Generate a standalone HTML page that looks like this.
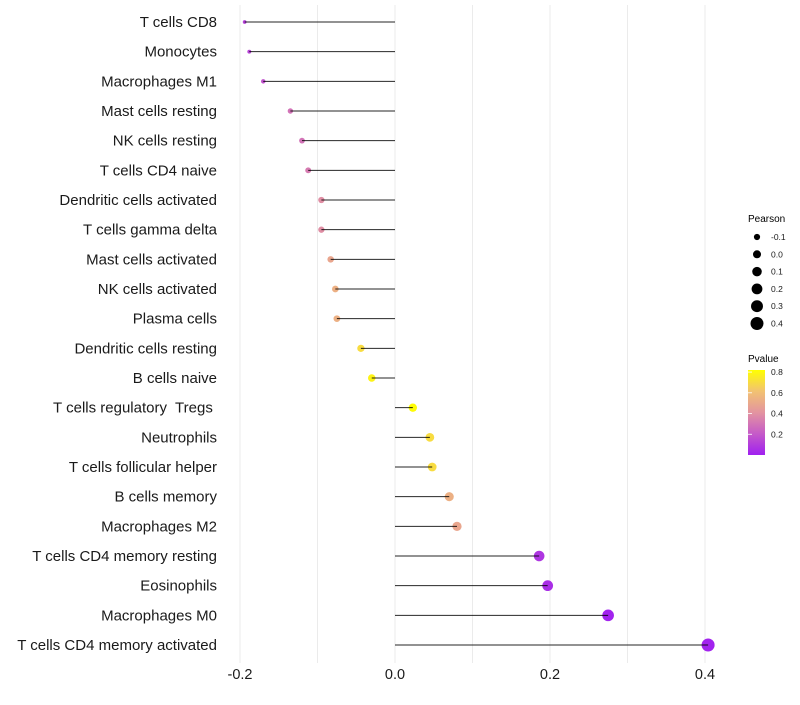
<!DOCTYPE html>
<html><head><meta charset="utf-8"><style>
body{margin:0;background:#fff;font-family:"Liberation Sans",sans-serif;}
svg text{font-family:"Liberation Sans",sans-serif;}
</style></head><body>
<svg id="chart" width="800" height="700" xmlns="http://www.w3.org/2000/svg">
<g id="grid"></g>
<g id="marks"></g>
<g id="yaxis"></g>
<g id="xaxis"></g>
<g id="legend">
<text x="748" y="222" font-size="10">Pearson</text>
<text x="748" y="362" font-size="10">Pvalue</text>
<defs><linearGradient id="pg" x1="0" y1="1" x2="0" y2="0">
<stop offset="0" stop-color="#A020F0"/><stop offset="0.25" stop-color="#C55AC8"/><stop offset="0.5" stop-color="#E394A0"/><stop offset="0.75" stop-color="#F2C272"/><stop offset="1" stop-color="#FFFF00"/></linearGradient></defs>
<rect x="748" y="370" width="17" height="85" fill="url(#pg)"/>
</g>
</svg>
<script>
const categories=["T cells CD8","Monocytes","Macrophages M1","Mast cells resting","NK cells resting","T cells CD4 naive","Dendritic cells activated","T cells gamma delta","Mast cells activated","NK cells activated","Plasma cells","Dendritic cells resting","B cells naive","T cells regulatory  Tregs ","Neutrophils","T cells follicular helper","B cells memory","Macrophages M2","T cells CD4 memory resting","Eosinophils","Macrophages M0","T cells CD4 memory activated"];
const pearson=[-0.194,-0.188,-0.170,-0.135,-0.120,-0.112,-0.095,-0.095,-0.083,-0.077,-0.075,-0.044,-0.030,0.023,0.045,0.048,0.070,0.080,0.186,0.197,0.275,0.404];
const pvalue=[0.12,0.13,0.18,0.3,0.3,0.33,0.4,0.4,0.5,0.55,0.55,0.72,0.8,0.83,0.72,0.72,0.55,0.5,0.08,0.05,0.01,0.01];
const xTicks=[-0.2,0.0,0.2,0.4];
const xTickLabels=["-0.2","0.0","0.2","0.4"];
const sizeLegend=[-0.1,0.0,0.1,0.2,0.3,0.4];
const pLegend=[0.2,0.4,0.6,0.8];
const NS="http://www.w3.org/2000/svg";
const X=v=>395+v*775;
const Y=i=>22+i*(623/21);
const R=v=>Math.sqrt(Math.max(1,18.6+75.25*v))*0.93;
const stops=[[0,[160,32,240]],[0.21,[197,90,200]],[0.42,[227,148,160]],[0.63,[242,194,114]],[0.84,[255,255,0]]];
function col(p){p=Math.min(0.84,Math.max(0,p));for(let k=1;k<stops.length;k++){if(p<=stops[k][0]){const a=stops[k-1],b=stops[k],t=(p-a[0])/(b[0]-a[0]);return "rgb("+a[1].map((c,j)=>Math.round(c+(b[1][j]-c)*t)).join(",")+")";}}return "rgb(255,255,0)";}
function mk(tag,attrs,parent){const e=document.createElementNS(NS,tag);for(const k in attrs)e.setAttribute(k,attrs[k]);parent.appendChild(e);return e;}
const grid=document.getElementById('grid'),marks=document.getElementById('marks'),ya=document.getElementById('yaxis'),xa=document.getElementById('xaxis'),lg=document.getElementById('legend');
for(let v=-0.2;v<=0.4001;v+=0.1){const g=mk('line',{x1:X(v),x2:X(v),y1:5,y2:663,stroke:'#ebebeb','stroke-width':1},grid);

}
categories.forEach((c,i)=>{
const p=pvalue[i],v=pearson[i];
const dot=mk('circle',{cx:X(v),cy:Y(i),r:R(v),fill:col(p)},marks);


const seg=mk('line',{x1:X(0),x2:X(v),y1:Y(i),y2:Y(i),stroke:'#000','stroke-width':1,'stroke-opacity':0.85},marks);


const t=mk('text',{x:217,y:Y(i)+5,'text-anchor':'end','font-size':15,fill:'#1a1a1a','xml:space':'preserve'},ya);t.textContent=c;
t.style.whiteSpace='pre';


});
xTicks.forEach((v,i)=>{const t=mk('text',{x:X(v),y:679,'text-anchor':'middle','font-size':14.5,fill:'#1a1a1a'},xa);t.textContent=xTickLabels[i];

});
sizeLegend.forEach((v,i)=>{const y=237+i*17.3;
const c=mk('circle',{cx:757,cy:y,r:R(v),fill:'#000'},lg);


const t=mk('text',{x:771,y:y+3,'font-size':8.5,fill:'#1a1a1a'},lg);t.textContent=v.toFixed(1);

});
pLegend.forEach(v=>{const y=455-v/0.82*85;
const l=mk('line',{x1:748,x2:752,y1:y,y2:y,stroke:'#fff','stroke-width':0.8},lg);


const t=mk('text',{x:771,y:y+3,'font-size':8.5,fill:'#1a1a1a'},lg);t.textContent=v.toFixed(1);

});
</script>
</body></html>
